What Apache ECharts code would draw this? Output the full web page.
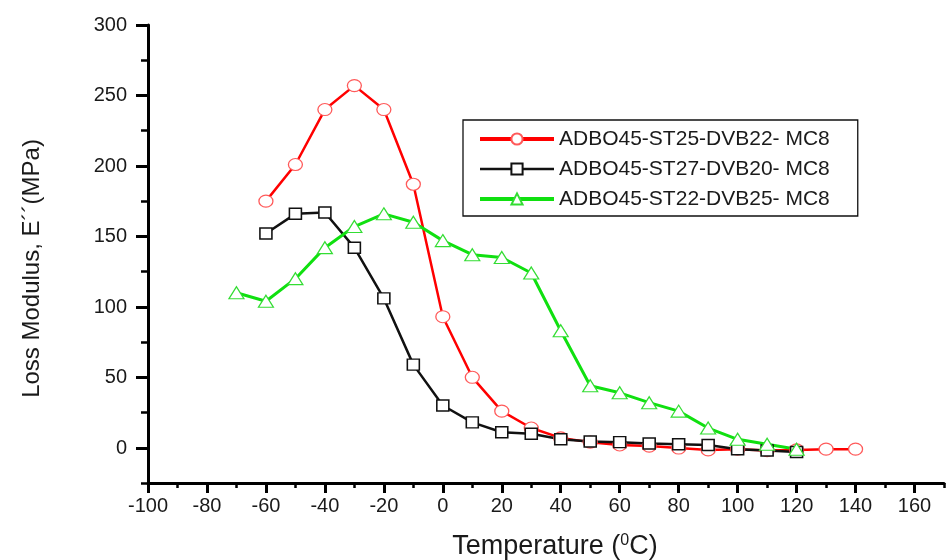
<!DOCTYPE html>
<html><head><meta charset="utf-8">
<script src="https://cdn.jsdelivr.net/npm/echarts@6/dist/echarts.min.js"></script>
<style>html,body{margin:0;padding:0;background:#fff}#c{width:949px;height:560px}</style>
</head><body><div id="c"></div>
<script>
const seriesNames = ['ADBO45-ST25-DVB22- MC8', 'ADBO45-ST27-DVB20- MC8', 'ADBO45-ST22-DVB25- MC8'];
const redTemp = [-60,-50,-40,-30,-20,-10,0,10,20,30,40,50,60,70,80,90,100,110,120,130,140];
const redVal  = [175,201,240,257,240,187,93,50,26,14,7,4,2,1.2,-0.2,-1.5,-1,-2,-1.5,-1,-1];
const blackTemp = [-60,-50,-40,-30,-20,-10,0,10,20,30,40,50,60,70,80,90,100,110,120];
const blackVal  = [152,166,167,142,106,59,30,18,11,10,6,4.5,4,3,2.5,2,-1,-2,-3];
const greenTemp = [-70,-60,-50,-40,-30,-20,-10,0,10,20,30,40,50,60,70,80,90,100,110,120];
const greenVal  = [110,104,120,142,157,166,160,147,137,135,124,83,44,39,32,26,14,6,2.5,-1];
const xTickLabels = [-100,-80,-60,-40,-20,0,20,40,60,80,100,120,140,160];
const yTickLabels = [0,50,100,150,200,250,300];

const pairs = (xs, ys) => xs.map((x, i) => [x, ys[i]]);
const FONT = 'Liberation Sans';
const chart = echarts.init(document.getElementById('c'), null, {renderer: 'canvas'});
chart.setOption({
  backgroundColor: '#fff',
  animation: false,
  grid: [
    {left: 148, top: 25, width: 796, height: 458, containLabel: false, outerBoundsMode: 'none'},
    {left: 148, top: 25, width: 766.5, height: 423, containLabel: false, outerBoundsMode: 'none'}
  ],
  legend: {
    orient: 'vertical', left: 463, top: 120,
    padding: [8, 28, 6, 15], itemGap: 8,
    itemWidth: 74, itemHeight: 14,
    borderColor: '#111', borderWidth: 1.3, backgroundColor: '#fff',
    textStyle: {fontFamily: FONT, fontSize: 21, color: '#1a1a1a', lineHeight: 22},
    data: [
      {name: seriesNames[0], lineStyle: {width: 4}},
      {name: seriesNames[1], lineStyle: {width: 2.5}},
      {name: seriesNames[2], lineStyle: {width: 4}}
    ]
  },
  xAxis: [
    {type: 'value', gridIndex: 0, min: -100, max: 170, interval: 10,
     splitLine: {show: false},
     axisLine: {onZero: false, lineStyle: {color: '#000', width: 3}},
     axisTick: {length: 5, lineStyle: {color: '#000', width: 2.5}},
     axisLabel: {show: false},
     name: 'Temperature ({s|0}C)', nameLocation: 'middle', nameGap: 50,
     nameTextStyle: {fontFamily: FONT, fontSize: 27, color: '#1a1a1a', padding: [0, 0, 0, 18],
       rich: {s: {fontFamily: FONT, fontSize: 16, verticalAlign: 'top', padding: [0, 0, 10, 0], color: '#1a1a1a'}}}
    },
    {type: 'value', gridIndex: 1, min: -100, max: 160, interval: 20, offset: 35,
     splitLine: {show: false},
     axisLine: {show: false, onZero: false},
     axisTick: {length: 10, lineStyle: {color: '#000', width: 3}},
     axisLabel: {fontFamily: FONT, fontSize: 20, color: '#1a1a1a', margin: 13,
       formatter: v => xTickLabels.includes(v) ? String(v) : ''}
    }
  ],
  yAxis: [
    {type: 'value', gridIndex: 0, min: -25, max: 300, interval: 25,
     splitLine: {show: false},
     axisLine: {show: true, onZero: false, lineStyle: {color: '#000', width: 3}},
     axisTick: {show: true, length: 7, lineStyle: {color: '#000', width: 2.5}},
     axisLabel: {show: false},
     name: 'Loss Modulus, E\u00b4\u00b4(MPa)', nameLocation: 'middle', nameGap: 104,
     nameTextStyle: {fontFamily: FONT, fontSize: 24, color: '#1a1a1a', padding: [0, 29, 0, 0]}
    },
    {type: 'value', gridIndex: 1, min: 0, max: 300, interval: 50,
     splitLine: {show: false},
     axisLine: {show: false, onZero: false},
     axisTick: {show: true, length: 12, lineStyle: {color: '#000', width: 3}},
     axisLabel: {fontFamily: FONT, fontSize: 20, color: '#1a1a1a', margin: 21,
       formatter: v => yTickLabels.includes(v) ? String(v) : ''}
    }
  ],
  series: [
    {name: seriesNames[0], type: 'line', xAxisIndex: 0, yAxisIndex: 0,
     data: pairs(redTemp, redVal),
     symbol: 'circle', symbolSize: [14, 12], showAllSymbol: true,
     lineStyle: {color: '#ff0000', width: 2.5},
     itemStyle: {color: '#fff', borderColor: '#ff5a5a', borderWidth: 1.2}
    },
    {name: seriesNames[1], type: 'line', xAxisIndex: 0, yAxisIndex: 0,
     data: pairs(blackTemp, blackVal),
     symbol: 'rect', symbolSize: [12, 11], showAllSymbol: true,
     lineStyle: {color: '#111', width: 2.5},
     itemStyle: {color: '#fff', borderColor: '#111', borderWidth: 1.5}
    },
    {name: seriesNames[2], type: 'line', xAxisIndex: 0, yAxisIndex: 0,
     data: pairs(greenTemp, greenVal),
     symbol: 'triangle', symbolSize: [15, 12], showAllSymbol: true,
     lineStyle: {color: '#10e010', width: 3},
     itemStyle: {color: '#fff', borderColor: '#33dd33', borderWidth: 1.2}
    }
  ]
});
</script></body></html>
